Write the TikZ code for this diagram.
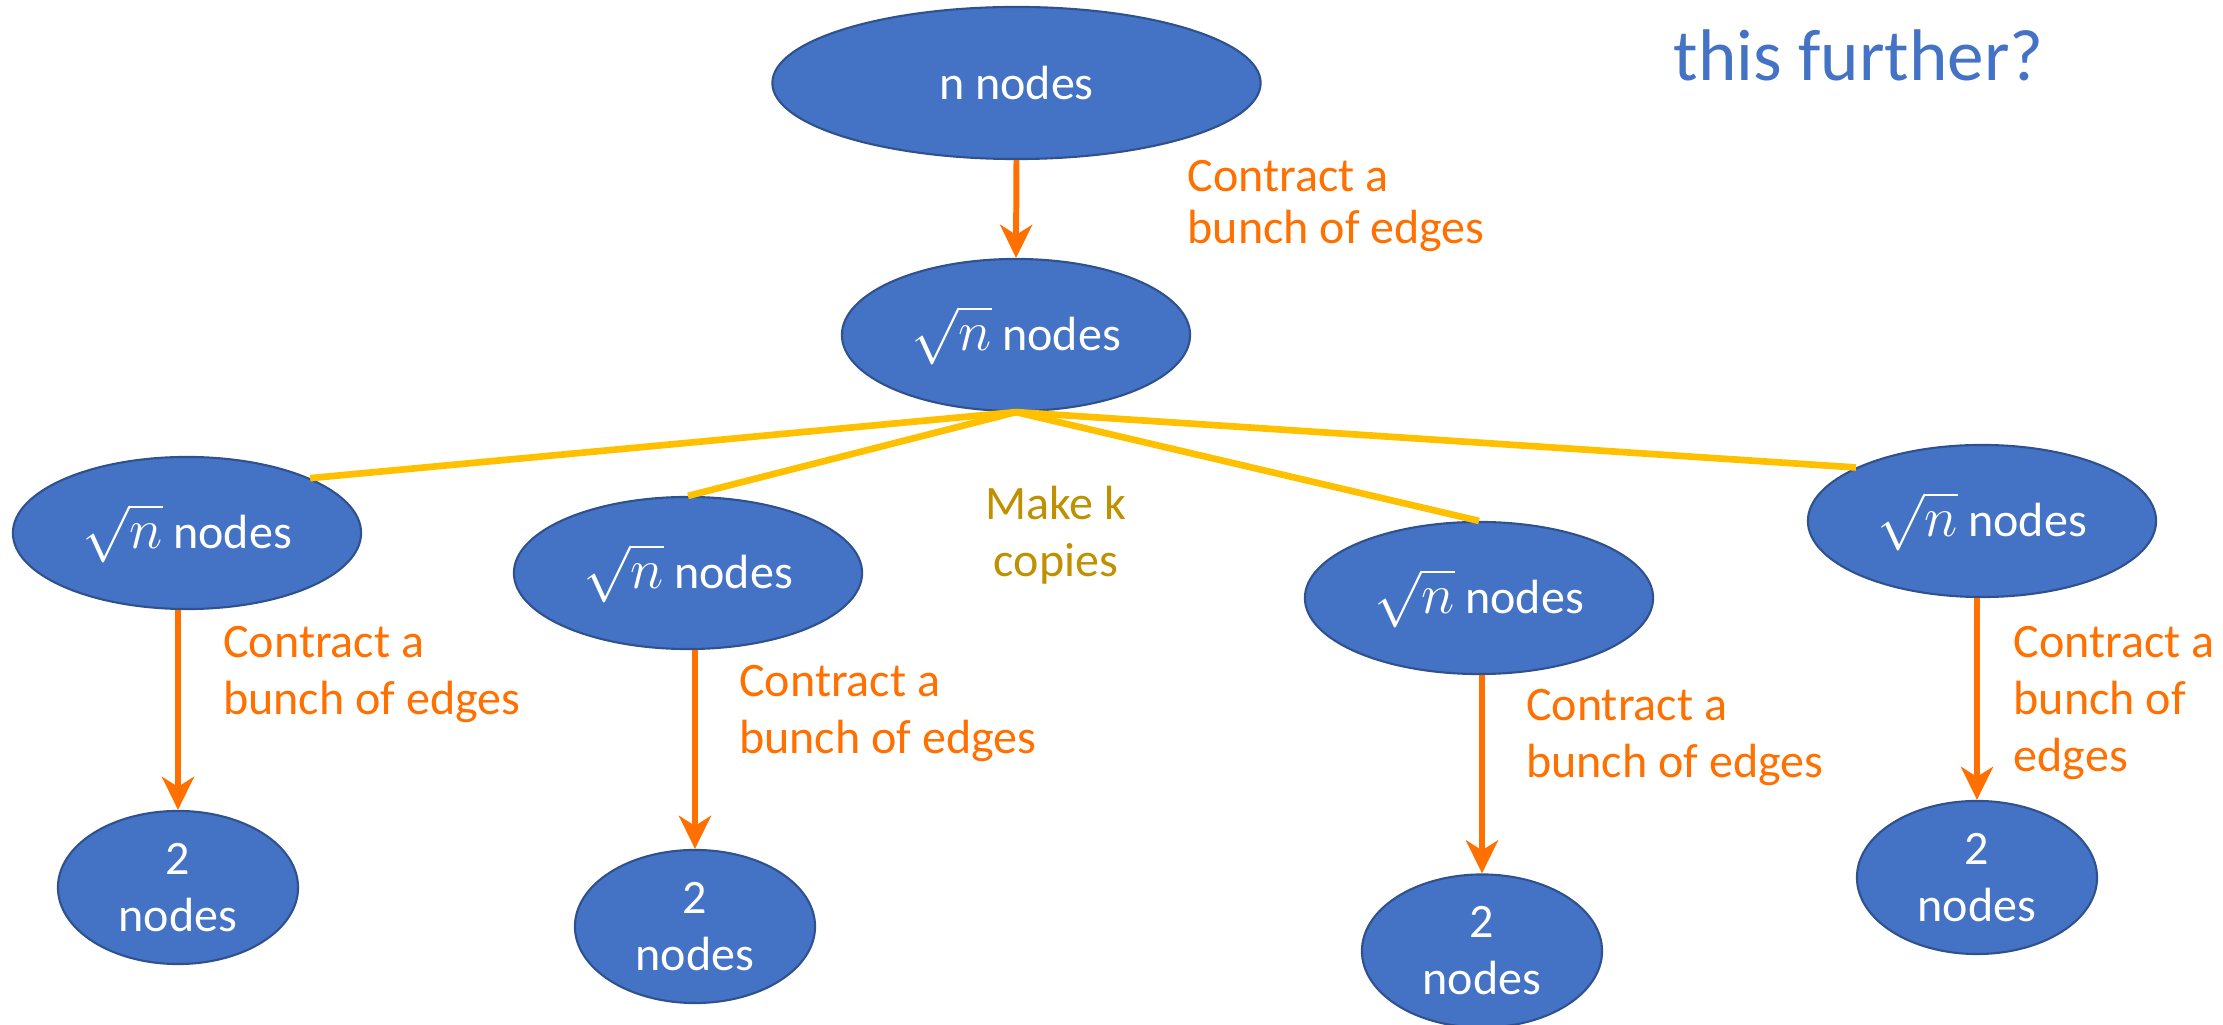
\documentclass[tikz,border=0pt]{standalone}
\usepackage{fontspec}
\setmainfont{Carlito}
\usetikzlibrary{shapes.geometric,arrows.meta}
\definecolor{nodeblue}{HTML}{4472C4}
\definecolor{nodeedge}{HTML}{2F528F}
\definecolor{contract}{HTML}{FF7000}
\definecolor{copyline}{HTML}{FFC000}
\definecolor{copytext}{HTML}{BF9000}
\newcommand\bodyfont{\fontsize{13.66pt}{16.2pt}\selectfont}
\newcommand\tightfont{\fontsize{13.66pt}{14.6pt}\selectfont}
\newcommand\headfont{\fontsize{20.8pt}{25pt}\selectfont}
\newcommand\rootn{$\scalebox{1.12}{$\sqrt{n}$}$}
\begin{document}
\begin{tikzpicture}[x=0.01cm,y=-0.01cm,
  blob/.style={ellipse, fill=nodeblue, draw=nodeedge, line width=0.6pt,
    inner sep=0pt, text=white, align=center, font=\bodyfont},
  wide/.style={blob, minimum width=4.88cm, minimum height=1.52cm},
  mid/.style={blob, minimum width=3.48cm, minimum height=1.52cm},
  small/.style={blob, minimum width=2.40cm, minimum height=1.53cm},
  note/.style={inner sep=0pt, align=left, text=contract, font=\bodyfont, anchor=west},
  shrink/.style={draw=contract, line width=1.7pt,
    -{Stealth[length=0.33cm, width=0.32cm, inset=0.1cm]}},
  copy/.style={draw=copyline, line width=1.9pt}]
\useasboundingbox (0,0) rectangle (2223,1025);

% title fragment
\node[anchor=base west, inner sep=0pt, text=nodeblue, font=\headfont] (title) at (1673,81) {this further?};

% graphs
\node[wide] (T) at (1016.5,83) {\raisebox{-1pt}{n nodes}};
\node[mid] (S) at (1016,335) {\rootn{} nodes};
\node[mid] (L1) at (187,533) {\rootn{} nodes};
\node[mid] (L2) at (688,573) {\rootn{} nodes};
\node[mid] (L3) at (1479,598) {\rootn{} nodes};
\node[mid] (L4) at (1982,521) {\rootn{} nodes};
\node[small] (B1) at (178,887.5) {2\\nodes};
\node[small] (B2) at (695,926.5) {2\\nodes};
\node[small] (B3) at (1482,951) {2\\nodes};
\node[small] (B4) at (1977,877.5) {2\\nodes};

% copies
\draw[copy] (S.south) -- (L1.24);
\draw[copy] (S.south) -- (L2.north);
\draw[copy] (S.south) -- (L3.north);
\draw[copy] (S.south) -- (L4.157);
\node[inner sep=0pt, align=center, text=copytext, font=\bodyfont] (mk) at (1056,535) {Make k\\copies};

% contractions
\draw[shrink] (T.south) -- (S.north);
\draw[shrink] (B1.north |- L1.south) -- (B1.north);
\draw[shrink] (B2.north |- L2.south) -- (B2.north);
\draw[shrink] (B3.north |- L3.south) -- (B3.north);
\draw[shrink] (B4.north |- L4.south) -- (B4.north);

\node[note, font=\tightfont] (c0) at (1187,206) {Contract a\\bunch of edges};
\node[note] (c1) at (222.6,675) {Contract a\\bunch of edges};
\node[note] (c2) at (738.6,714) {Contract a\\bunch of edges};
\node[note] (c3) at (1525.5,738) {Contract a\\bunch of edges};
\node[note] (c4) at (2013,703) {Contract a\\bunch of\\edges};
\end{tikzpicture}
\end{document}
